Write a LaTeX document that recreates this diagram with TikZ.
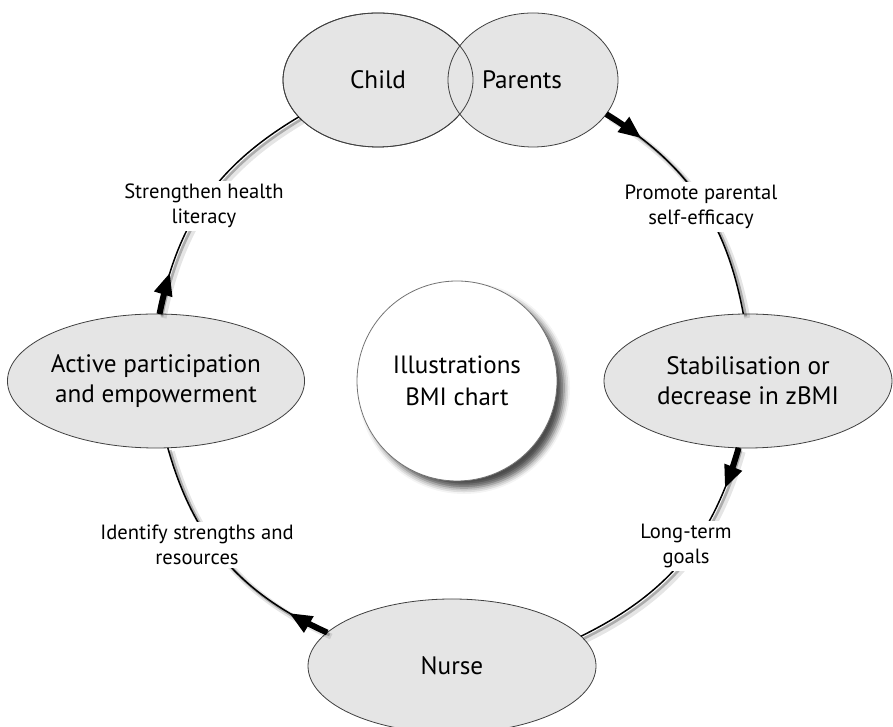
\documentclass[tikz,border=0pt]{standalone}
\usepackage{fontspec}
\setmainfont{PT Sans}
\usetikzlibrary{arrows.meta,shapes.geometric,decorations.markings,shadows.blur}
\tikzset{
  phase/.style={ellipse, draw=black!75, line width=0.4pt, fill=black!10,
    inner sep=0pt, outer sep=0pt, minimum height=67pt, align=center,
    font=\fontsize{12.6}{15}\selectfont},
  stagelabel/.style={fill=white, inner sep=1.5pt, align=center,
    font=\fontsize{10.3}{12.5}\selectfont},
  loopline/.style={line width=0.75pt,
    preaction={draw, line width=3pt, black, opacity=0.10,
      transform canvas={shift={(2pt,-2pt)}}},
    preaction={draw, line width=1.4pt, black, opacity=0.25,
      transform canvas={shift={(1.2pt,-1.2pt)}}},
    postaction={draw, line width=3pt, dash pattern=on 11pt off 2000pt},
    postaction={decorate},
    decoration={markings,
      mark=at position 21pt with {\arrow{Triangle[length=11pt,width=9.5pt]}}}}
}

\begin{document}
\begin{tikzpicture}[x=0.5pt,y=0.5pt]
\clip (0,0) rectangle (893,727);
% who takes part
\node[phase, minimum width=95pt] (child) at (378,647) {Child};
\node[phase, minimum width=85pt] (parents) at (533,647) {Parents\hspace*{11pt}};
\draw[draw=black!75, line width=0.4pt] (child.center) ellipse [x radius=95, y radius=67];
% the other stages
\node[phase, minimum width=144pt] (stab) at (748,346) {Stabilisation or\\decrease in zBMI};
\node[phase, minimum width=144pt] (nurse) at (452,61) {Nurse};
\node[phase, minimum width=143pt] (active) at (156,346) {Active participation\\and empowerment};
\node[circle, draw=black!55, line width=0.4pt, fill=white, minimum size=100pt,
  align=center, font=\fontsize{12.5}{16}\selectfont,
  blur shadow={shadow xshift=3.5pt, shadow yshift=-3.5pt, shadow blur radius=3pt, shadow opacity=70}]
  (bmi) at (457,346) {Illustrations\\BMI chart};
% the cycle
\draw[loopline] (parents.-25) to[bend left=24] (stab.94);
\draw[loopline] (stab.-98) to[bend left=24] (nurse.13);
\draw[loopline] (nurse.165) to[bend left=25] (active.-80);
\draw[loopline] (active.87) to[bend left=24] (child.205);
% labels on the cycle
\node[stagelabel] (promote) at (701,520) {Promote parental\\self-efficacy};
\node[stagelabel] (goals) at (686,181) {Long-term\\goals};
\node[stagelabel] (resources) at (197,182) {Identify strengths and\\resources};
\node[stagelabel] (literacy) at (204,521) {Strengthen health\\literacy};
\end{tikzpicture}
\end{document}
